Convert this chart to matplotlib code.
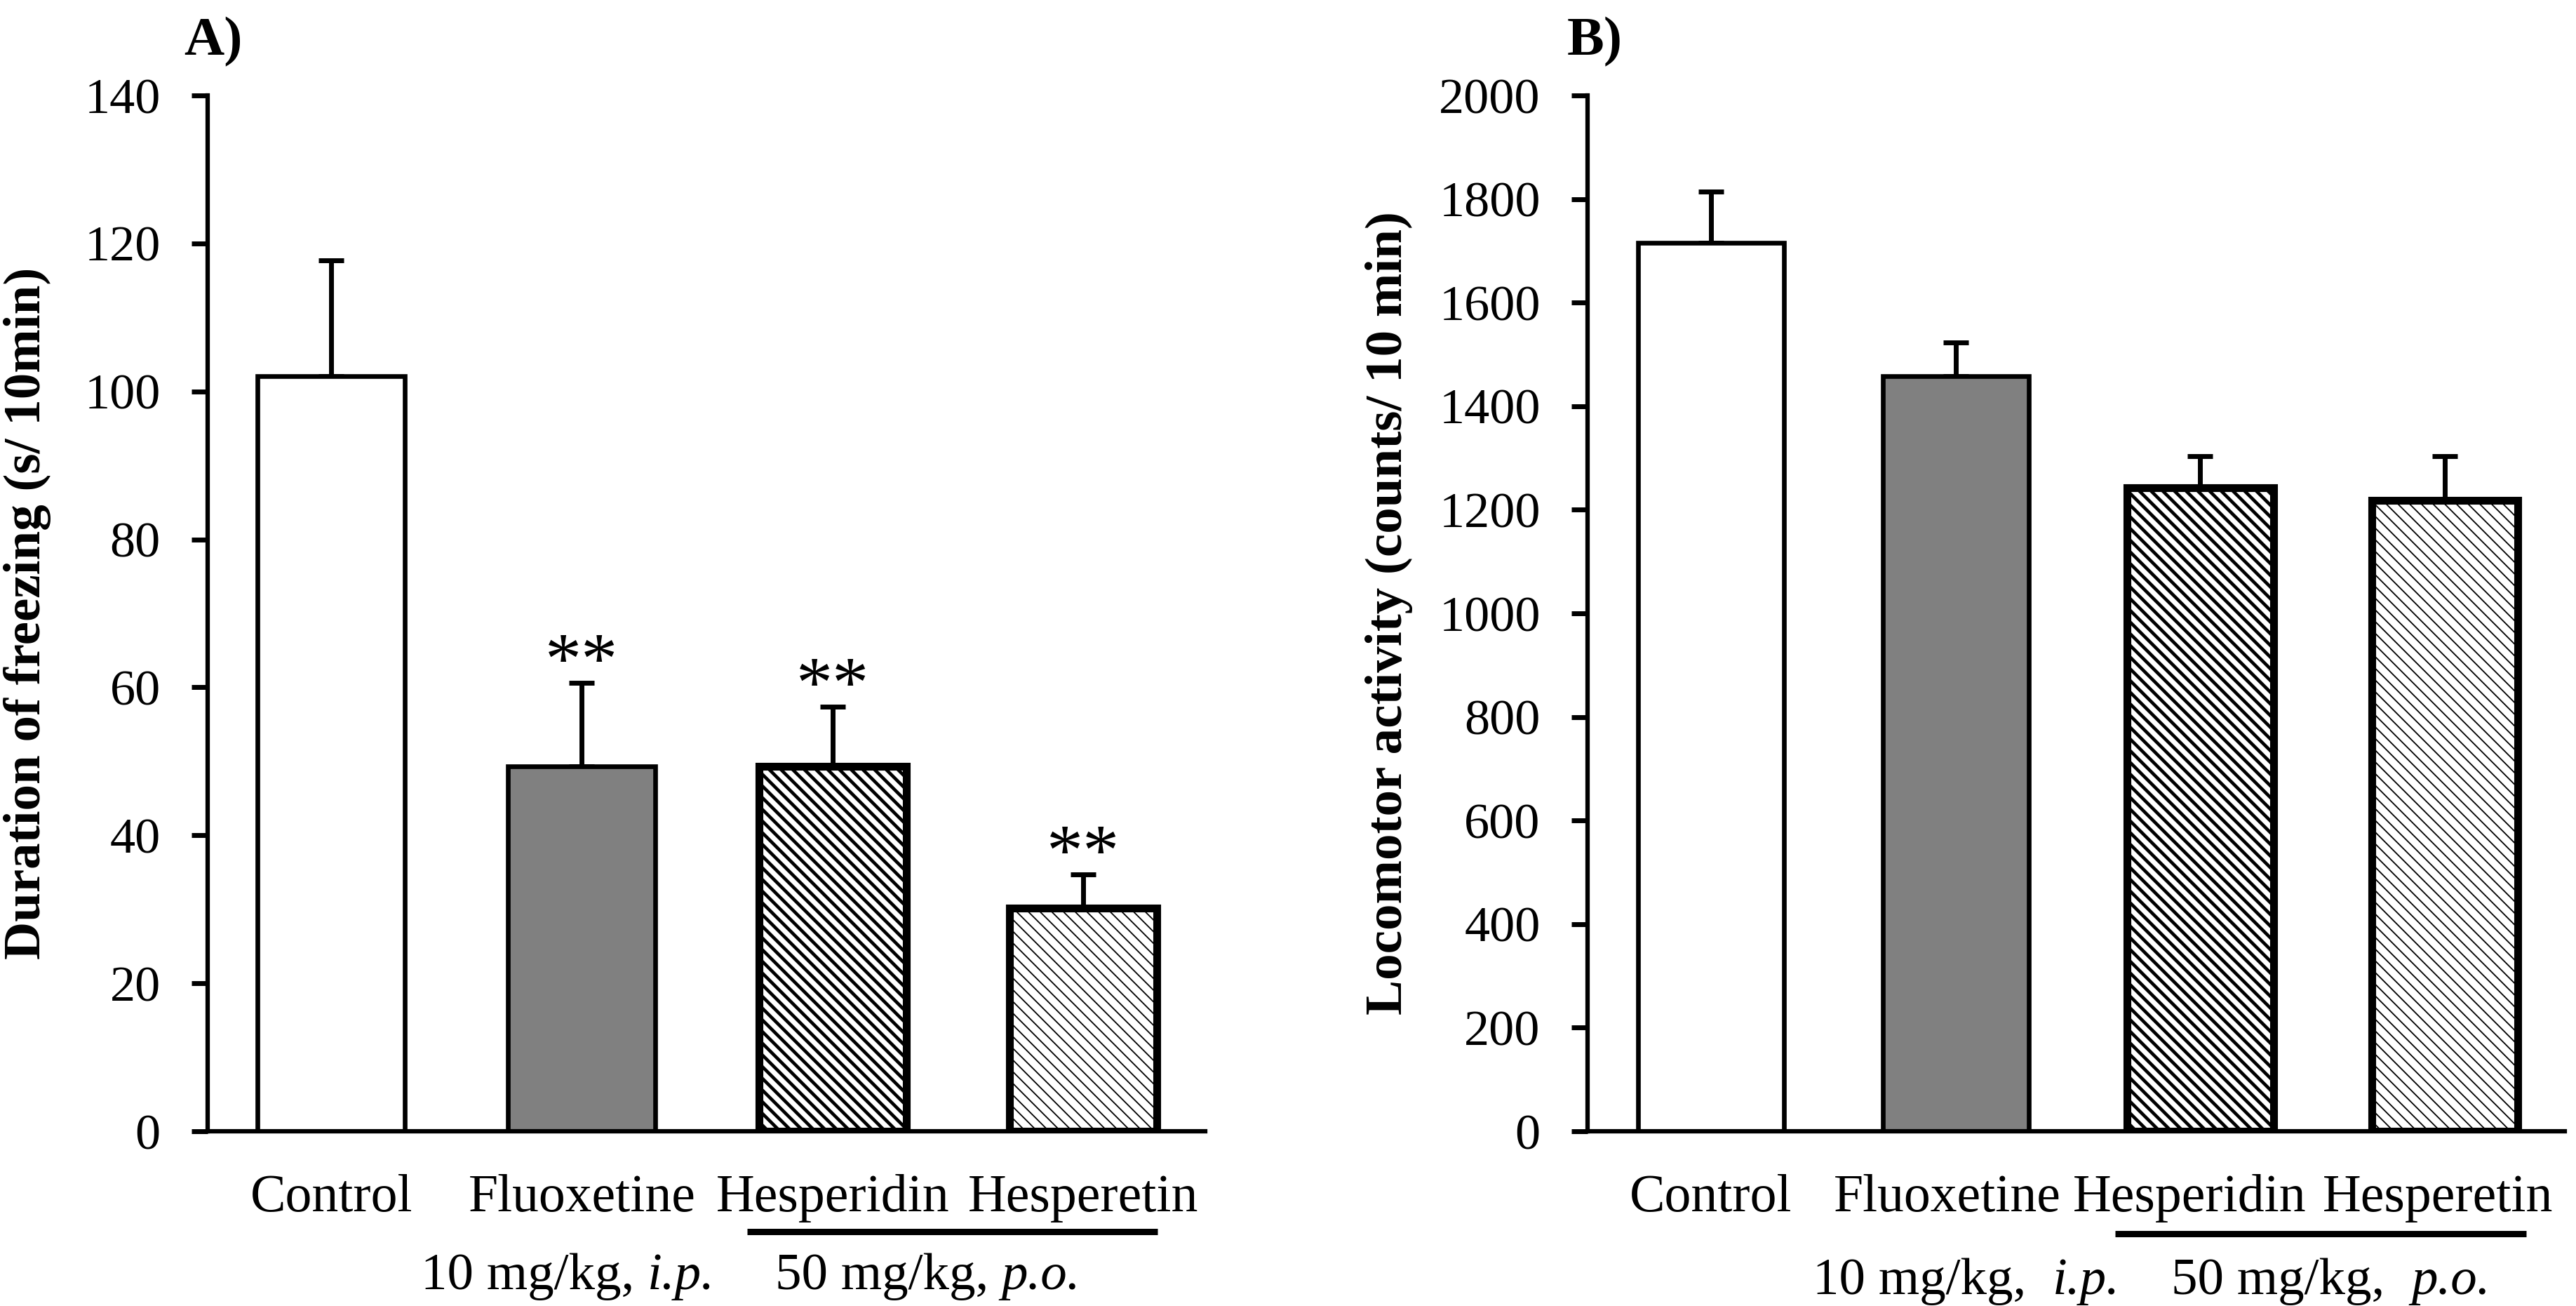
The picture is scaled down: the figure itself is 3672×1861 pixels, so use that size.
import matplotlib
matplotlib.use('Agg')
import matplotlib.pyplot as plt
import numpy as np

# ---------------- data ----------------
groups = ['Control', 'Fluoxetine', 'Hesperidin', 'Hesperetin']
freeze_mean = [102.1, 49.3, 49.3, 30.2]
freeze_sem = [15.6, 11.3, 8.1, 4.5]
freeze_sig = ['', '**', '**', '**']
loco_mean = [1716, 1458, 1242, 1218]
loco_sem = [98, 65, 61, 85]
freeze_yticks = [0, 20, 40, 60, 80, 100, 120, 140]
loco_yticks = [0, 200, 400, 600, 800, 1000, 1200, 1400, 1600, 1800, 2000]
dose_text = ['10 mg/kg,', '50 mg/kg,']
route_text = ['i.p.', 'p.o.']

# ---------------- style ----------------
plt.rcParams['font.family'] = ['Liberation Serif', 'DejaVu Serif']

fills = ['white', '#808080', 'white', 'white']
hatches = [None, None, '\\\\', '\\\\']
edge_lw = [4.8, 4.8, 8.0, 8.0]
hatch_lw = [1.0, 1.0, 3.4, 1.3]

W, H = 3673, 1861
fig = plt.figure(figsize=(W / 100, H / 100), dpi=100)

def px_axes(left, right, top, bottom):
    return [left / W, 1 - bottom / H, (right - left) / W, (bottom - top) / H]

axA = fig.add_axes(px_axes(296, 1718, 136, 1612))
axB = fig.add_axes(px_axes(2263, 3656, 136, 1612))

x = np.arange(len(groups))


def draw_panel(ax, means, sems, width, xlim, ylim, yticks, ylabel, ylabel_x,
               panel, panel_x, cat_dx, dose_left, dose_y, gap_pt, line_x, line_y):
    for i in range(len(groups)):
        b = ax.bar(x[i], means[i], width, color=fills[i], edgecolor='black',
                   linewidth=edge_lw[i], hatch=hatches[i], zorder=2)
        for p in b.patches:
            if hasattr(p, 'set_hatch_linewidth'):
                p.set_hatch_linewidth(hatch_lw[i])
    ax.errorbar(x, means, yerr=[np.zeros(len(means)), sems], fmt='none',
                ecolor='black', elinewidth=5, capsize=13, capthick=5, zorder=1)
    ax.set_xlim(*xlim)
    ax.set_ylim(*ylim)
    ax.set_yticks(yticks)
    ax.set_yticklabels([str(t) for t in yticks])
    ax.set_xticks(x)
    ax.tick_params(axis='x', length=0, labelbottom=False)
    ax.tick_params(axis='y', direction='out', length=16.5, width=5,
                   pad=32, labelsize=52)
    for s in ['top', 'right']:
        ax.spines[s].set_visible(False)
    for s in ['left', 'bottom']:
        ax.spines[s].set_linewidth(4.5)
    ax.set_ylabel(ylabel, fontsize=54, fontweight='bold')
    ax.yaxis.set_label_coords(ylabel_x, 0.5)
    ax.text(panel_x, 1.0393, panel, transform=ax.transAxes, ha='left',
            va='baseline', fontsize=57, fontweight='bold')
    tr = ax.get_xaxis_transform()
    for i, g in enumerate(groups):
        ax.text(x[i] + cat_dx[i], -0.0772, g, transform=tr, ha='center',
                va='baseline', fontsize=54.5)
    for d, r, dx in zip(dose_text, route_text, dose_left):
        t1 = ax.text(dx, dose_y, d, transform=tr, ha='left', va='baseline',
                     fontsize=54)
        ax.annotate(r, xy=(1, 0), xycoords=t1, xytext=(gap_pt, 0),
                    textcoords='offset points', ha='left', va='bottom',
                    fontsize=54, style='italic', annotation_clip=False)
    ax.plot(line_x, [line_y, line_y], transform=tr, color='black', lw=6.5,
            solid_capstyle='butt', clip_on=False)


draw_panel(axA, freeze_mean, freeze_sem, 0.588, (-0.493, 3.487), (0, 140),
           freeze_yticks, 'Duration of freezing (s/ 10min)', -0.157,
           'A)', -0.024, [0, 0, 0, 0], [0.3585, 1.770], -0.1524, 13.5,
           [1.658, 3.297], -0.0969)
for i in range(len(groups)):
    if freeze_sig[i]:
        axA.text(x[i], freeze_mean[i] + freeze_sem[i], freeze_sig[i],
                 ha='center', va='baseline', fontsize=75, zorder=3)

draw_panel(axB, loco_mean, loco_sem, 0.597, (-0.505, 3.49), (0, 2000),
           loco_yticks, 'Locomotor activity (counts/ 10 min)', -0.179,
           'B)', -0.021, [0, -0.035, -0.045, -0.03], [0.416, 1.882], -0.157,
           27, [1.653, 3.331], -0.0989)

fig.savefig('out.png', dpi=100)
